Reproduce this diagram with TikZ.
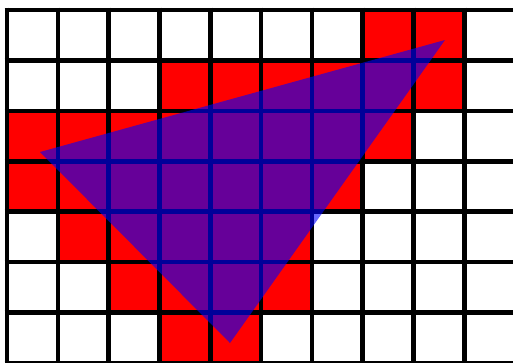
\documentclass[tikz,border=0pt]{standalone}
\begin{document}
\begin{tikzpicture}[x=1pt,y=-1pt,
  cellfill/.style={fill=red},
  gridline/.style={line width=4.6pt,black},
  tri/.style={fill=blue,fill opacity=0.6}]
\useasboundingbox (0,0) rectangle (513,362);
\fill[white] (0,0) rectangle (513,362);
\clip (0,0) rectangle (513,362);
\def\cw{50.8}\def\rh{50.4}\def\xo{7}\def\yo{10}
% red cells: row / first col / last col
\foreach \r/\a/\b in {0/7/8, 1/3/8, 2/0/7, 3/0/6, 4/1/5, 5/2/5, 6/3/4}{
  \foreach \c in {\a,...,\b}{
    \fill[cellfill] ({\xo+\c*\cw},{\yo+\r*\rh}) rectangle ({\xo+(\c+1)*\cw},{\yo+(\r+1)*\rh});
  }
}
% grid
\foreach \c in {0,...,10}{
  \draw[gridline] ({\xo+\c*\cw},{\yo-2.3}) -- ({\xo+\c*\cw},{\yo+7*\rh+3});
}
\foreach \r in {0,...,7}{
  \draw[gridline] ({\xo-2.3},{\yo+\r*\rh}) -- ({\xo+10*\cw+3},{\yo+\r*\rh});
}
% triangle
\coordinate (A) at (40,152);
\coordinate (B) at (445,40);
\coordinate (C) at (230,343);
\fill[tri] (A) -- (B) -- (C) -- cycle;
\end{tikzpicture}
\end{document}
